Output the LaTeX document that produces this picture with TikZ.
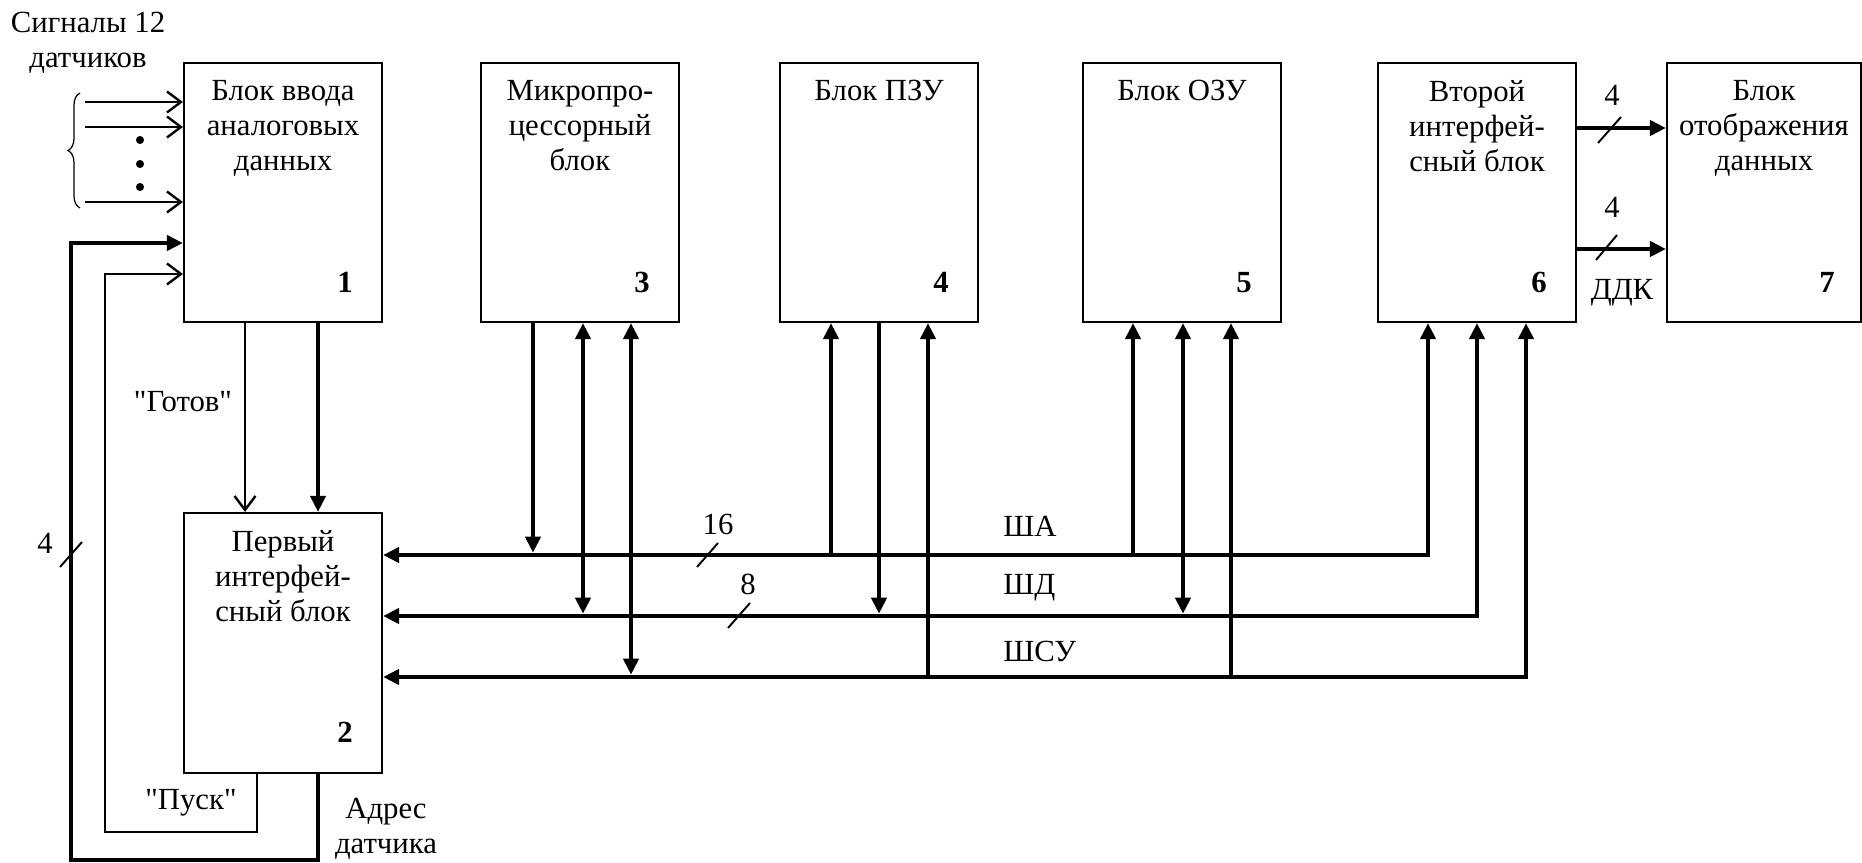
\documentclass[tikz,border=0pt]{standalone}
\usepackage{fontspec}
\setmainfont{Liberation Serif}
\usetikzlibrary{arrows.meta,decorations.pathreplacing}
\newcommand{\dgmfont}{\fontsize{17.5}{20}\selectfont}
\tikzset{
  blk/.style={rectangle, draw, line width=1.25pt, inner sep=0pt, minimum width=3.96cm, minimum height=5.18cm},
  ttl/.style={anchor=north, inner sep=0pt, align=center},
  num/.style={anchor=base, inner sep=0pt, font={\dgmfont\bfseries}},
  lbl/.style={inner sep=0pt, align=center},
  tarr/.style={-{Straight Barb[length=0.28cm, width=0.42cm]}, line width=1.35pt},
  barr/.style={-{Triangle[length=0.32cm, width=0.3cm]}, line width=2.6pt},
  dbarr/.style={{Triangle[length=0.32cm, width=0.3cm]}-{Triangle[length=0.32cm, width=0.3cm]}, line width=2.6pt},
  slash/.style={line width=1.1pt},
  brc/.style={decorate, decoration={brace, amplitude=0.24cm}, line width=0.7pt},
}

\begin{document}
\begin{tikzpicture}[x=0.02cm, y=-0.02cm, font=\dgmfont]
  \useasboundingbox (0,0) rectangle (1862,862);
  \node[blk] (b1) at (283,192.5) {};
  \node[blk, minimum height=5.2cm] (b2) at (283,643) {};
  \node[blk] (b3) at (580,192.5) {};
  \node[blk] (b4) at (879,192.5) {};
  \node[blk] (b5) at (1182,192.5) {};
  \node[blk] (b6) at (1477,192.5) {};
  \node[blk, minimum width=3.88cm] (b7) at (1764,192.5) {};
  \node[ttl] (t1) at (283,80) {Блок ввода\\аналоговых\\данных};
  \node[ttl] (t2) at (283,530) {Первый\\интерфей-\\сный блок};
  \node[ttl] (t3) at (580,80) {Микропро-\\цессорный\\блок};
  \node[ttl] (t4) at (879,80) {Блок ПЗУ};
  \node[ttl] (t5) at (1182,80) {Блок ОЗУ};
  \node[ttl] (t6) at (1477,80) {Второй\\интерфей-\\сный блок};
  \node[ttl] (t7) at (1764,80) {Блок\\отображения\\данных};
  \node[num] (n1) at (345,292) {1};
  \node[num] (n2) at (345,742) {2};
  \node[num] (n3) at (642,292) {3};
  \node[num] (n4) at (941,292) {4};
  \node[num] (n5) at (1244,292) {5};
  \node[num] (n6) at (1539,292) {6};
  \node[num] (n7) at (1827,292) {7};

  \node[lbl, anchor=north] (sig) at (88,12) {Сигналы 12\\датчиков};
  \draw[brc] (80,208) -- (80,93);
  \foreach \yy [count=\i] in {102,127,202}{
    \coordinate (in\i) at (85,\yy);
    \draw[tarr] (in\i) -- (in\i -| b1.west);}
  \foreach \yy in {140,164,187} \fill (140,\yy) circle (2.3pt);

  \draw[tarr] (245,0 |- b1.south) -- (245,0 |- b2.north);
  \draw[barr] (318,0 |- b1.south) -- (318,0 |- b2.north);
  \node[lbl] (rdy) at (183,402) {\textquotedbl Готов\textquotedbl};
  \draw[barr] (318,0 |- b2.south) |- (71,860) |- (b1.west |- 0,243);
  \draw[tarr] (257,0 |- b2.south) |- (105,832) |- (b1.west |- 0,274);
  \node[lbl] (go) at (191,803) {\textquotedbl Пуск\textquotedbl};
  \node[lbl, anchor=north] (adr) at (386,798) {Адрес\\датчика};
  \node[lbl] (w4a) at (45,543) {4};
  \draw[slash] (60,567) -- (82,542);

  \coordinate (SA) at (0,555);
  \coordinate (SD) at (0,616);
  \coordinate (SCU) at (0,677);
  \draw[dbarr] (b2.east |- SA) -| (1428,0 |- b6.south);
  \draw[dbarr] (b2.east |- SD) -| (1477,0 |- b6.south);
  \draw[dbarr] (b2.east |- SCU) -| (1526,0 |- b6.south);
  \draw[barr, shorten >=1.3pt] (533,0 |- b3.south) -- (533,0 |- SA);
  \draw[dbarr, shorten >=1.3pt] (583,0 |- b3.south) -- (583,0 |- SD);
  \draw[dbarr, shorten >=1.3pt] (631,0 |- b3.south) -- (631,0 |- SCU);
  \draw[barr] (831,0 |- SA) -- (831,0 |- b4.south);
  \draw[barr, shorten >=1.3pt] (879,0 |- b4.south) -- (879,0 |- SD);
  \draw[barr] (928,0 |- SCU) -- (928,0 |- b4.south);
  \draw[barr] (1133,0 |- SA) -- (1133,0 |- b5.south);
  \draw[dbarr, shorten >=1.3pt] (1183,0 |- b5.south) -- (1183,0 |- SD);
  \draw[barr] (1231,0 |- SCU) -- (1231,0 |- b5.south);
  \node[lbl, anchor=west] (lSA) at (1003,526) {ША};
  \node[lbl, anchor=west] (lSD) at (1003,588) {ШД};
  \node[lbl, anchor=west] (lSCU) at (1003,651) {ШСУ};
  \node[lbl] (w16) at (718,524) {16};
  \draw[slash] (697,567) -- (718,543);
  \node[lbl] (w8) at (748,584) {8};
  \draw[slash] (728,628) -- (750,603);

  \draw[barr] (b6.east |- 0,128) -- (b7.west |- 0,128);
  \draw[barr] (b6.east |- 0,249) -- (b7.west |- 0,249);
  \node[lbl] (w4b) at (1612,95) {4};
  \draw[slash] (1598,143) -- (1621,117);
  \node[lbl] (w4c) at (1612,207) {4};
  \draw[slash] (1596,260) -- (1617,235);
  \node[lbl] (ddk) at (1622,293) {ДДК};
\end{tikzpicture}
\end{document}
